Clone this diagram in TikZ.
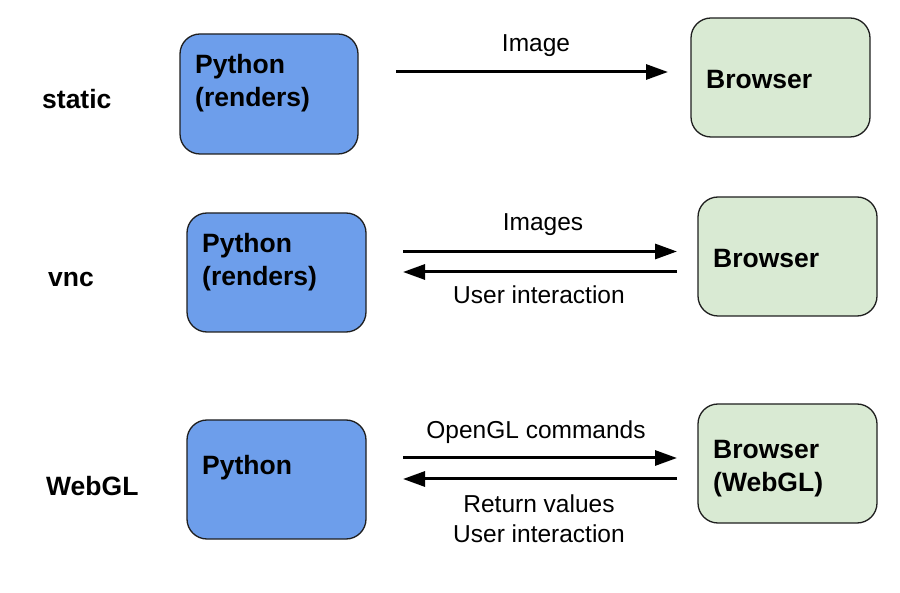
\documentclass[tikz,border=0pt]{standalone}
\usepackage{fontspec}
\setmainfont{Liberation Sans}
\usetikzlibrary{arrows.meta}
\definecolor{pyblue}{HTML}{6D9EEB}
\definecolor{brgreen}{HTML}{D9EAD3}
\definecolor{edge}{HTML}{1F1F1F}
\begin{document}
\begin{tikzpicture}[x=1pt,y=-1pt,
  box/.style={draw=edge,line width=1.3pt,rounded corners=20pt,minimum width=179pt,minimum height=119pt,inner sep=0pt},
  pybox/.style={box,fill=pyblue},
  brbox/.style={box,fill=brgreen},
  boxtext/.style={font=\bfseries\fontsize{26.5}{33}\selectfont,align=left,anchor=base west,inner sep=0pt},
  rowlabel/.style={font=\bfseries\fontsize{26.5}{33}\selectfont,anchor=base west,inner sep=0pt},
  arrlabel/.style={font=\fontsize{24.5}{30}\selectfont,align=center,anchor=base,inner sep=0pt},
  flow/.style={line width=3pt,-{Triangle[length=22pt,width=15pt]}}]
\useasboundingbox (0,0) rectangle (900,593);
% row 1
\node[pybox,minimum width=178pt,minimum height=120pt] (p1) at (269,94) {};
\node[brbox] (b1) at (780.5,77.5) {};
\node[boxtext] (p1t) at (195,107) {Python\\(renders)};
\node[boxtext] (b1t) at (706,89) {Browser};
\node[rowlabel] (l1) at (42,109) {static};
\coordinate (a1s) at (396,72);
\coordinate (a1e) at (668,72);
\draw[flow] (a1s) -- (a1e);
\node[arrlabel] (t1) at (536,52) {Image};
% row 2
\node[pybox] (p2) at (276.5,272.5) {};
\node[brbox] (b2) at (787.5,256.5) {};
\node[boxtext] (p2t) at (202,286) {Python\\(renders)};
\node[boxtext] (b2t) at (713,268) {Browser};
\node[rowlabel] (l2) at (48,287) {vnc};
\coordinate (a2s) at (403,251.5);
\coordinate (a2e) at (677,251.5);
\coordinate (a2r) at (677,272);
\coordinate (a2l) at (403,272);
\draw[flow] (a2s) -- (a2e);
\draw[flow] (a2r) -- (a2l);
\node[arrlabel] (t2) at (543,231) {Images};
\node[arrlabel] (t2b) at (539,304) {User interaction};
% row 3
\node[pybox] (p3) at (276.5,479.5) {};
\node[brbox] (b3) at (787.5,463.5) {};
\node[boxtext] (p3t) at (202,475) {Python};
\node[boxtext] (b3t) at (713,492) {Browser\\(WebGL)};
\node[rowlabel] (l3) at (46,495) {WebGL};
\coordinate (a3s) at (403,458);
\coordinate (a3e) at (677,458);
\coordinate (a3r) at (677,479);
\coordinate (a3l) at (403,479);
\draw[flow] (a3s) -- (a3e);
\draw[flow] (a3r) -- (a3l);
\node[arrlabel] (t3) at (536,439) {OpenGL commands};
\node[arrlabel] (t3b) at (539,542) {Return values\\User interaction};
\end{tikzpicture}
\end{document}
